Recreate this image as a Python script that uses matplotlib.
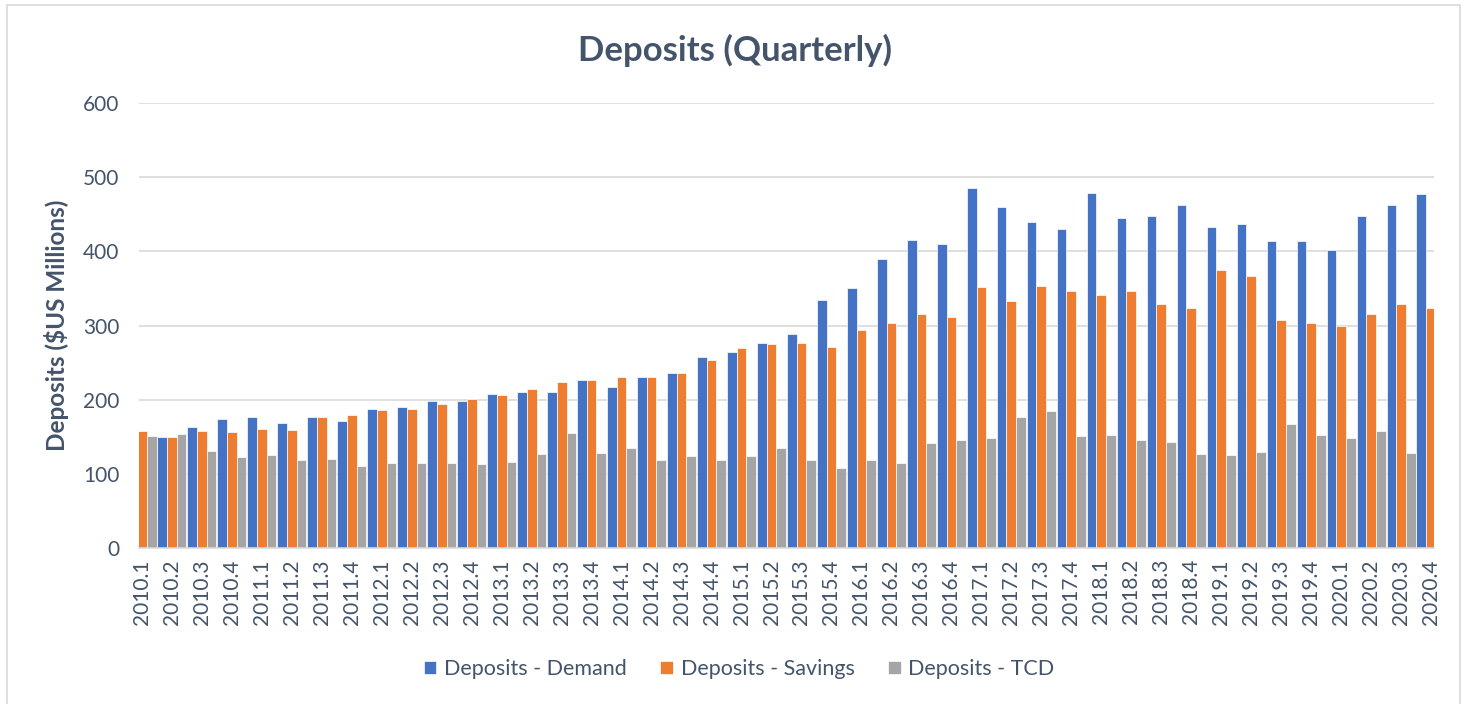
import matplotlib
matplotlib.use("Agg")
import matplotlib.pyplot as plt
from matplotlib.patches import Rectangle
import numpy as np

plt.rcParams['font.family'] = ['Lato', 'DejaVu Sans']

quarters = [f"{y}.{q}" for y in range(2010, 2021) for q in range(1, 5)]

demand = [150, 150, 163, 174, 177, 168, 176, 171,
          188, 190, 198, 198, 207, 210, 211, 227,
          217, 230, 236, 258, 264, 277, 288, 334,
          350, 389, 415, 410, 486, 460, 440, 430,
          478, 445, 448, 462, 433, 437, 414, 414,
          402, 447, 462, 477]
savings = [158, 150, 158, 156, 161, 159, 176, 180,
           186, 187, 194, 201, 206, 214, 224, 227,
           230, 230, 236, 254, 269, 275, 277, 271,
           294, 303, 315, 311, 352, 333, 353, 347,
           341, 346, 329, 323, 375, 367, 308, 304,
           299, 316, 329, 323]
tcd = [151, 154, 131, 123, 125, 119, 120, 110,
       115, 115, 115, 113, 116, 127, 155, 128,
       135, 118, 124, 119, 124, 135, 119, 108,
       118, 114, 141, 145, 148, 177, 185, 151,
       152, 145, 143, 127, 126, 130, 167, 153,
       148, 158, 128, 130]

series = [("Deposits - Demand", demand, "#4472C4"),
          ("Deposits - Savings", savings, "#ED7D31"),
          ("Deposits - TCD", tcd, "#A5A5A5")]

W, H = 1466, 704
fig = plt.figure(figsize=(W / 100, H / 100), dpi=100)
ax = fig.add_axes([139 / W, 1 - 548 / H, (1434 - 139) / W, (548 - 103) / H])

x = np.arange(len(quarters))
bw = 1 / 3.1
for i, (name, vals, col) in enumerate(series):
    ax.bar(x + (i - 1) * bw, vals, width=bw, color=col, label=name,
           edgecolor='white', linewidth=0.5, zorder=3)

ax.set_xlim(-0.1, len(quarters) - 1 + 0.1)
ax.set_ylim(0, 600)
ax.set_yticks(range(0, 601, 100))
ax.grid(axis='y', color='#D9D9D9', linewidth=1.2, zorder=0)
ax.set_axisbelow(True)
for s in ['top', 'right', 'left']:
    ax.spines[s].set_visible(False)
ax.spines['bottom'].set_color('#D9D9D9')
ax.spines['bottom'].set_linewidth(1.2)
ax.spines['bottom'].set_zorder(4)

txtcol = '#44546A'
ax.set_xticks(x)
ax.set_xticklabels(quarters, rotation=90, fontsize=15, color=txtcol)
ax.tick_params(axis='both', length=0, pad=8)
ax.tick_params(axis='y', labelsize=15, labelcolor=txtcol, pad=14)

ax.set_ylabel("Deposits ($US Millions)", fontsize=17.5, fontweight='bold',
              color=txtcol, labelpad=10)
fig.text(735 / W, 1 - 50 / H, "Deposits (Quarterly)", fontsize=25,
         fontweight='bold', color=txtcol, ha='center', va='center')

leg = fig.legend(loc='center', bbox_to_anchor=(739 / W, 1 - 669 / H), ncol=3,
                 frameon=False, fontsize=15.5, handlelength=0.6, handleheight=0.6,
                 handletextpad=0.35, columnspacing=1.55, labelcolor='#44546A')

fig.patches.append(Rectangle((7 / W, -0.01), (1460 - 7) / W, 1.01 - 5 / H + 0.0,
                             transform=fig.transFigure, fill=False,
                             edgecolor='#D9D9D9', linewidth=1.2))

fig.savefig("out.png", dpi=100)
